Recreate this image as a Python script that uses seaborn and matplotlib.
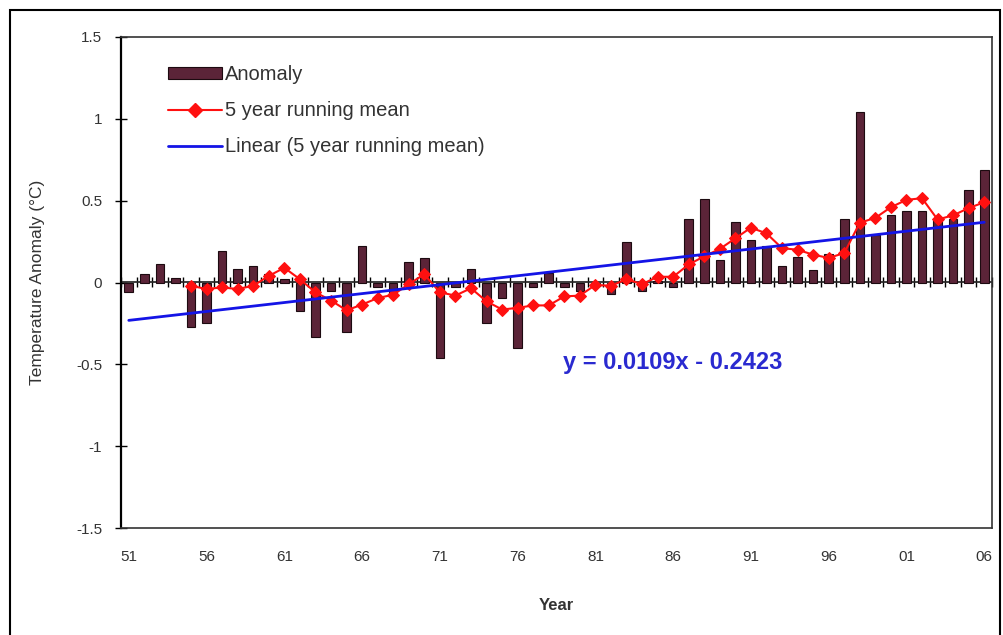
import numpy as np
import pandas as pd
import matplotlib
matplotlib.use("Agg")
import matplotlib.pyplot as plt
import seaborn as sns
from matplotlib.patches import Rectangle, Patch
from matplotlib.lines import Line2D

# Annual temperature anomaly (°C), 1951-2006
years = list(range(1951, 2007))
anomaly = [
    -0.06, 0.05, 0.11, 0.03, -0.27, -0.245, 0.19, 0.085, 0.10, 0.05,
    0.02, -0.175, -0.33, -0.05, -0.305, 0.22, -0.03, -0.08, 0.125, 0.15,
    -0.46, -0.03, 0.085, -0.25, -0.095, -0.40, -0.03, 0.06, -0.03, -0.05,
    -0.02, -0.07, 0.25, -0.05, 0.01, -0.03, 0.39, 0.51, 0.14, 0.37,
    0.26, 0.225, 0.10, 0.155, 0.075, 0.175, 0.39, 1.04, 0.29, 0.41,
    0.435, 0.435, 0.38, 0.39, 0.565, 0.685,
]

# 5 year running mean, 1955-2006
running_mean = [
    -0.02, -0.04, -0.03, -0.04, -0.02, 0.04, 0.09, 0.02, -0.06, -0.11,
    -0.17, -0.135, -0.095, -0.075, -0.01, 0.05, -0.06, -0.08, -0.035, -0.115,
    -0.165, -0.155, -0.14, -0.14, -0.085, -0.08, -0.015, -0.02, 0.02, -0.01,
    0.035, 0.035, 0.11, 0.16, 0.205, 0.27, 0.335, 0.30, 0.21, 0.20,
    0.17, 0.15, 0.18, 0.365, 0.395, 0.46, 0.505, 0.515, 0.385, 0.41,
    0.455, 0.49,
]

# Linear trend of the running mean: y = slope * x + intercept, x = 1..56
slope = 0.0109
intercept = -0.2423

tick_labels = ["51", "56", "61", "66", "71", "76", "81", "86", "91", "96", "01", "06"]
y_ticks = [-1.5, -1.0, -0.5, 0.0, 0.5, 1.0, 1.5]
y_tick_labels = ["-1.5", "-1", "-0.5", "0", "0.5", "1", "1.5"]

bar_color = "#5b2438"
bar_edge = "#1c0a10"
mean_color = "#ff1010"
trend_color = "#1414e6"

sns.set_theme(style="white")
plt.rcParams["font.family"] = ["Liberation Sans", "DejaVu Sans"]

W, H = 1004, 635
fig = plt.figure(figsize=(W / 100, H / 100), dpi=100)
fig.patch.set_facecolor("white")
ax = fig.add_axes([121 / W, 1 - 528 / H, 871 / W, 491 / H])

pos = np.arange(len(years))
df = pd.DataFrame({"pos": pos, "anomaly": anomaly})
sns.barplot(data=df, x="pos", y="anomaly", native_scale=True, width=0.55,
            color=bar_color, saturation=1, edgecolor=bar_edge, linewidth=0.8,
            errorbar=None, ax=ax, zorder=2)

rm_df = pd.DataFrame({"pos": pos[len(years) - len(running_mean):],
                      "mean": running_mean})
sns.lineplot(data=rm_df, x="pos", y="mean", color=mean_color, marker="D",
             markersize=6.5, markeredgecolor=mean_color, linewidth=1.5,
             ax=ax, zorder=4)

trend_x = np.arange(1, len(years) + 1)
trend_df = pd.DataFrame({"pos": trend_x - 1, "trend": slope * trend_x + intercept})
sns.lineplot(data=trend_df, x="pos", y="trend", color=trend_color,
             linewidth=2, ax=ax, zorder=5)

ax.set_xlim(-0.5, len(years) - 0.5)
ax.set_ylim(-1.5, 1.5)
ax.set_yticks(y_ticks)
ax.set_yticklabels(y_tick_labels)
ax.set_xticks(pos[::5])
ax.set_xticklabels(tick_labels)
ax.tick_params(axis="x", length=0, pad=16, labelsize=11, colors="#333333")
ax.tick_params(axis="y", direction="inout", length=8, width=1, color="black",
               pad=9.5, labelsize=11, labelcolor="#333333", left=True)
for side in ["top", "right", "bottom"]:
    ax.spines[side].set_color("#333333")
    ax.spines[side].set_linewidth(1.2)
ax.spines["left"].set_color("black")
ax.spines["left"].set_linewidth(1.6)

# Category axis crossing at zero, with tick marks between the years
zero_axis = ax.secondary_xaxis(0.5)
zero_axis.set_xticks(np.arange(-0.5, len(years), 1.0))
zero_axis.set_xticklabels([])
zero_axis.tick_params(direction="inout", length=7, width=1, color="black")
zero_axis.spines["bottom"].set_color("black")
zero_axis.spines["bottom"].set_linewidth(1.2)

ax.set_xlabel("Year", fontsize=12, fontweight="bold", color="#333333")
ax.xaxis.set_label_coords(0.5, -0.1426)
ax.set_ylabel("Temperature Anomaly (°C)", fontsize=12.5, color="#333333")
ax.yaxis.set_label_coords(-0.087, 0.5)

handles = [
    Patch(facecolor=bar_color, edgecolor=bar_edge, linewidth=0.8),
    Line2D([], [], color=mean_color, marker="D", markersize=7, linewidth=1.5),
    Line2D([], [], color=trend_color, linewidth=2),
]
labels = ["Anomaly", "5 year running mean", "Linear (5 year running mean)"]
leg = ax.legend(handles, labels, loc="upper left", bbox_to_anchor=(0.045, 0.959),
                borderaxespad=0, frameon=False, fontsize=14.5, handlelength=2.65,
                handleheight=0.6, labelspacing=0.85, handletextpad=0.15)
for t in leg.get_texts():
    t.set_color("#333333")

ax.text(35.0, -0.49, f"y = {slope}x - {abs(intercept)}", ha="center", va="center",
        fontsize=17, fontweight="bold", color="#2a2ad0")

fig.add_artist(Rectangle((10 / W, -0.05), 990 / W, 1.05 - 10 / H,
                         transform=fig.transFigure, fill=False,
                         edgecolor="black", linewidth=1.5))

fig.savefig("out.png", dpi=100)
